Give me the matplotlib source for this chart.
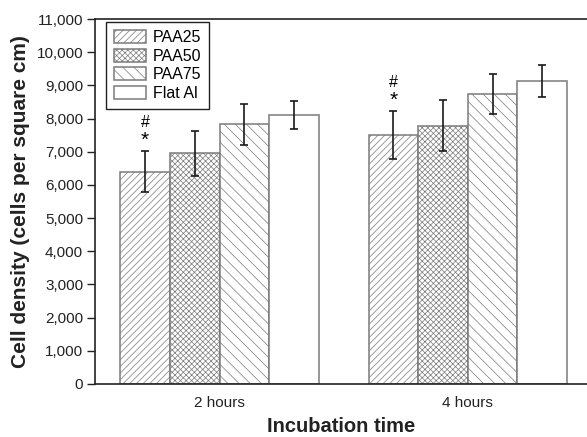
import numpy as np
import matplotlib
matplotlib.use("Agg")
import matplotlib.pyplot as plt
from matplotlib.ticker import FuncFormatter

plt.rcParams['font.family'] = ['Liberation Sans', 'DejaVu Sans']
plt.rcParams['hatch.color'] = '#8c8c8c'
plt.rcParams['hatch.linewidth'] = 0.5

# data
groups = ['2 hours', '4 hours']
series = ['PAA25', 'PAA50', 'PAA75', 'Flat Al']
means = {
    'PAA25': [6400, 7510],
    'PAA50': [6950, 7780],
    'PAA75': [7830, 8750],
    'Flat Al': [8110, 9130],
}
errors = {
    'PAA25': [620, 720],
    'PAA50': [670, 770],
    'PAA75': [620, 600],
    'Flat Al': [410, 480],
}
hatches = ['/////', 'xxxxxx', '\\\\\\', '']
marked = 'PAA25'

fig = plt.figure(figsize=(5.87, 4.37), dpi=100)
ax = fig.add_axes([0.1618, 0.1213, 0.8382, 0.8352])

x = np.arange(len(groups))
width = 0.2
for i, name in enumerate(series):
    pos = x + (i - 1.5) * width
    ax.bar(pos, means[name], width, color='white', edgecolor='#7a7a7a',
           linewidth=1.1, hatch=hatches[i], label=name, zorder=2)
    ax.errorbar(pos, means[name], yerr=errors[name], fmt='none',
                ecolor='#1a1a1a', elinewidth=1.2, capsize=2.8, capthick=1.2, zorder=3)
    if name == marked:
        for p, m, e in zip(pos, means[name], errors[name]):
            ax.text(p, m + e + 330, '*', ha='center', va='center', fontsize=15)
            ax.text(p, m + e + 850, '#', ha='center', va='center', fontsize=11.5)

ax.set_xlim(-0.502, 1.48)
ax.set_ylim(0, 11000)
ax.set_yticks(np.arange(0, 11001, 1000))
ax.yaxis.set_major_formatter(FuncFormatter(lambda v, _: f'{int(v):,}'))
ax.set_xticks(x)
ax.set_xticklabels(groups)
ax.tick_params(axis='x', length=0, pad=9, labelsize=11, labelcolor='#222222')
ax.tick_params(axis='y', length=5.5, width=1, pad=3, labelsize=11,
               color='#222222', labelcolor='#222222')
for s in ['left', 'bottom', 'top']:
    ax.spines[s].set_color('#222222')
    ax.spines[s].set_linewidth(1.2)
ax.spines['right'].set_visible(False)

ax.set_ylabel('Cell density (cells per square cm)', fontsize=15,
              fontweight='bold', labelpad=5, color='#222222')
ax.set_xlabel('Incubation time', fontsize=14.5, fontweight='bold', labelpad=5,
              color='#222222')

leg = ax.legend(loc='upper left', bbox_to_anchor=(0.022, 0.992), fontsize=11.5,
                borderaxespad=0, fancybox=False, framealpha=1, edgecolor='#222222',
                handlelength=2.0, handleheight=0.9, handletextpad=0.45,
                labelspacing=0.22, borderpad=0.5)
leg.get_frame().set_linewidth(1.0)

fig.savefig('out.png', dpi=100)
